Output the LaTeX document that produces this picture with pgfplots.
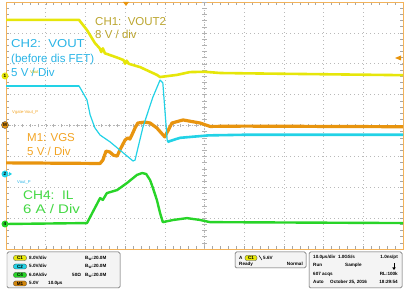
\documentclass[border=0pt]{standalone}
\usepackage{pgfplots}
\pgfplotsset{compat=1.18}
\usepackage{pgfplotstable}
\usepackage{fontspec}
\setmainfont{Liberation Sans}
\definecolor{bordercol}{HTML}{F2B25A}
\definecolor{ytrace}{HTML}{E6E60A}
\definecolor{ctrace}{HTML}{22D2E6}
\definecolor{otrace}{HTML}{E8940E}
\definecolor{gtrace}{HTML}{28D428}
\definecolor{ylab}{HTML}{BBA52E}
\definecolor{clab}{HTML}{2AB4E6}
\definecolor{olab}{HTML}{F2A424}
\definecolor{glab}{HTML}{44D844}
\definecolor{panel}{HTML}{F4F4F4}

\pgfplotstableread{
t v
0 7.42
18.4 7.42
20.4 7.09
22.4 6.67
23.6 6.50
24.0 6.38
24.4 6.50
24.9 6.34
28.0 6.20
29.6 6.12
30.0 6.00
30.4 6.10
30.9 6.00
33.8 5.89
38.0 5.64
38.8 5.57
43.1 5.64
46.3 5.73
50.0 5.74
54.0 5.70
60.0 5.69
100 5.63
}\chone
\pgfplotstableread{
t v
0 5.28
18.4 5.28
20.4 4.83
21.2 4.34
22.4 3.92
23.7 3.69
26.2 3.47
32.0 2.85
32.5 2.88
34.5 3.95
37.0 4.92
38.8 5.47
39.5 5.38
40.6 3.53
40.7 3.47
43.8 3.60
51.0 3.68
60.0 3.70
100 3.70
}\chtwo
\pgfplotstableread{
t v
0 2.79
23.7 2.77
24.4 2.88
25.2 3.17
26.2 3.14
27.0 3.04
28.0 3.01
28.7 3.21
30.0 3.53
30.7 3.60
31.2 3.56
31.7 3.69
32.5 3.92
33.2 4.08
35.0 4.11
36.3 4.08
38.0 3.92
40.0 3.63
41.8 4.08
44.6 4.18
48.9 4.08
51.4 3.97
60 3.98
100 3.96
}\mone
\pgfplotstableread{
t v
0 0.81
20.4 0.84
23.7 1.65
24.4 1.59
25.4 1.81
28.0 1.91
30.5 2.14
33.0 2.40
34.3 2.46
35.3 2.43
36.3 2.23
37.0 1.98
38.0 1.59
38.8 1.17
39.5 0.87
42.1 0.94
45.6 1.00
48.9 0.94
51.4 0.87
100 0.84
}\chfour

\newcommand\lab{\fontsize{11.5bp}{13bp}\selectfont}
\newcommand\labg{\fontsize{12.5bp}{14bp}\selectfont}
\newcommand\tf{\fontsize{4.6bp}{5bp}\selectfont\bfseries}
\newcommand\tn{\fontsize{4.2bp}{5bp}\selectfont}

\begin{document}
\begin{tikzpicture}
\begin{axis}[
  at={(6bp,40bp)}, anchor=south west,
  scale only axis, width=397bp, height=247bp,
  xmin=0, xmax=100, ymin=0, ymax=8,
  xtick={0,10,...,100}, ytick={0,1,...,8},
  minor x tick num=4, minor y tick num=4,
  xticklabels={}, yticklabels={},
  tick align=inside,
  major tick length=3bp, minor tick length=3bp,
  tick style={gray!70, line width=0.4bp},
  grid=major,
  major grid style={gray!55, dash pattern=on 0.7bp off 3.3bp, line width=0.5bp},
  axis line style={color=bordercol, line width=0.9bp},
  clip=true,
]
% center crosshair
\draw[gray!55, dash pattern=on 0.7bp off 2.2bp, line width=0.5bp] (axis cs:0,4) -- (axis cs:100,4);
\draw[gray!55, dash pattern=on 0.7bp off 2.2bp, line width=0.5bp] (axis cs:50,0) -- (axis cs:50,8);
\pgfplotsinvokeforeach{0,2,...,100}{\draw[gray!60, line width=0.4bp] (axis cs:#1,3.94) -- (axis cs:#1,4.06);}
\pgfplotsinvokeforeach{0,0.2,...,8}{\draw[gray!60, line width=0.4bp] (axis cs:49.4,#1) -- (axis cs:50.6,#1);}

\addplot[color=ytrace, line width=2.6bp, line join=round] table[x=t,y=v] {\chone};
\addplot[color=otrace, line width=3.2bp, line join=round] table[x=t,y=v] {\mone};
\addplot[color=ctrace, line width=1.2bp, line join=round] table[x=t,y=v] {\chtwo};
\addplot[color=ctrace, line width=2.6bp] coordinates {(0,5.28) (18.4,5.28)};
\addplot[color=ctrace, line width=2.6bp] coordinates {(40.7,3.47) (43.8,3.60) (51.0,3.68) (60.0,3.70) (100,3.70)};
\addplot[color=gtrace, line width=2.4bp, line join=round] table[x=t,y=v] {\chfour};
\end{axis}

\begin{scope}[shift={(0,289bp)}, x=1bp, y=-1bp]
% labels
\node[anchor=base west, inner sep=0, text=ylab, font=\lab] at (95,26) {CH1:\ \ VOUT2};
\node[anchor=base west, inner sep=0, text=ylab, font=\lab] at (95,39) {8 V / div};
\node[anchor=base west, inner sep=0, text=clab, font=\lab] at (11,47.5) {\scalebox{1.14}[1]{CH2:\ \ VOUT}};
\node[anchor=base west, inner sep=0, text=clab, font=\lab] at (11,62.5) {(before dis FET)};
\node[anchor=base west, inner sep=0, text=clab, font=\lab] at (11,77) {5 V / Div};
\node[anchor=base west, inner sep=0, text=olab, font=\lab] at (27,142) {M1: VGS};
\node[anchor=base west, inner sep=0, text=olab, font=\lab] at (27,155.5) {5 V / Div};
\node[anchor=base west, inner sep=0, text=glab, font=\labg] at (23,200) {\scalebox{1.1}[1]{CH4:\ \ IL}};
\node[anchor=base west, inner sep=0, text=glab, font=\labg] at (23,213.5) {\scalebox{1.2}[1]{6 A / Div}};
% tiny reference labels
\node[anchor=base west, inner sep=0, text=olab, font=\tn] at (12,114) {Vgate-Vout\_P};
\node[anchor=base west, inner sep=0, text=clab, font=\tn] at (17,184) {Vout\_P};
\node[anchor=base west, inner sep=0, text=ytrace!80!black, font=\tn] at (30,74) {Vout};
% channel markers
\node[circle, fill=ytrace, inner sep=0, minimum size=7bp, font=\tf] at (5,76) {1};
\node[circle, fill=otrace, draw=gray!60!black, line width=0.4bp, inner sep=0, minimum size=7bp, font=\tf] at (5,125) {M};
\node[circle, fill=ctrace, inner sep=0, minimum size=7bp, font=\tf] at (5,174) {2};
\fill[ctrace] (9,172) -- (12,174) -- (9,176) -- cycle;
\node[circle, fill=gtrace, inner sep=0, minimum size=7bp, font=\tf] at (5,224) {4};
% trigger markers
\fill[otrace] (123,2) -- (129,2) -- (126,6) -- cycle;
\fill[otrace] (395,58) -- (401,55.5) -- (401,60.5) -- cycle;
% bottom panel boxes
\draw[gray!70!black, fill=panel, line width=0.5bp, rounded corners=1.5bp] (7,252) rectangle (120,288);
\draw[gray!70!black, fill=panel, line width=0.5bp, rounded corners=1.5bp] (235,252) rectangle (306,268);
\draw[gray!70!black, fill=panel, line width=0.5bp, rounded corners=1.5bp] (309,252) rectangle (402,288);
% left box contents
\node[fill=ytrace, draw=gray!50!black, line width=0.3bp, rounded corners=2bp, inner sep=0.3bp, minimum width=13bp, minimum height=5bp, font=\tf] at (20,258) {C1};
\node[fill=ctrace, draw=gray!50!black, line width=0.3bp, rounded corners=2bp, inner sep=0.3bp, minimum width=13bp, minimum height=5bp, font=\tf] at (20,266.5) {C2};
\node[fill=gtrace, draw=gray!50!black, line width=0.3bp, rounded corners=2bp, inner sep=0.3bp, minimum width=13bp, minimum height=5bp, font=\tf] at (20,275) {C4};
\node[fill=otrace!90!black, draw=gray!50!black, line width=0.3bp, rounded corners=2bp, inner sep=0.3bp, minimum width=13bp, minimum height=5bp, font=\tf] at (20,283.5) {M1};
\node[anchor=base west, inner sep=0, font=\tf] at (29,259.5) {8.0V/div};
\node[anchor=base west, inner sep=0, font=\tf] at (29,268) {5.0V/div};
\node[anchor=base west, inner sep=0, font=\tf] at (29,276.5) {6.0A/div};
\node[anchor=base west, inner sep=0, font=\tf] at (29,285) {5.0V};
\node[anchor=base west, inner sep=0, font=\tf] at (48,285) {10.0μs};
\node[anchor=base west, inner sep=0, font=\tf] at (72,276.5) {50Ω};
\node[anchor=base west, inner sep=0, font=\tf] at (85,259.5) {B\textsubscript{W}:20.0M};
\node[anchor=base west, inner sep=0, font=\tf] at (85,268) {B\textsubscript{W}:20.0M};
\node[anchor=base west, inner sep=0, font=\tf] at (85,276.5) {B\textsubscript{W}:20.0M};
% middle box
\node[anchor=base west, inner sep=0, font=\tf] at (239,259.5) {A};
\node[fill=ytrace, draw=gray!50!black, line width=0.3bp, rounded corners=2bp, inner sep=0.3bp, minimum width=12bp, minimum height=5bp, font=\tf] at (251,258) {C1};
\draw[line width=0.5bp] (259,255.5) -- (262,260);
\node[anchor=base west, inner sep=0, font=\tf] at (263,259.5) {5.6V};
\node[anchor=base west, inner sep=0, font=\tf] at (239,266) {Ready};
\node[anchor=base east, inner sep=0, font=\tf] at (303,266) {Normal};
% right box
\node[anchor=base west, inner sep=0, font=\tf] at (313,259) {10.0μs/div\ \ 1.0GS/s};
\node[anchor=base east, inner sep=0, font=\tf] at (398,259) {1.0ns/pt};
\node[anchor=base west, inner sep=0, font=\tf] at (313,267) {Run};
\node[anchor=base west, inner sep=0, font=\tf] at (345,267) {Sample};
\draw[line width=0.9bp] (394,263) -- (394,268.5);
\fill (392.3,267.5) -- (395.7,267.5) -- (394,270) -- cycle;
\node[anchor=base west, inner sep=0, font=\tf] at (313,275.5) {607 acqs};
\node[anchor=base east, inner sep=0, font=\tf] at (398,275.5) {RL:100k};
\node[anchor=base west, inner sep=0, font=\tf] at (313,284) {Auto};
\node[anchor=base west, inner sep=0, font=\tf] at (330,284) {October 25, 2016};
\node[anchor=base east, inner sep=0, font=\tf] at (398,284) {18:29:54};
\end{scope}
\pgfresetboundingbox
\useasboundingbox (0,0) rectangle (406bp,289bp);
\end{tikzpicture}
\end{document}
